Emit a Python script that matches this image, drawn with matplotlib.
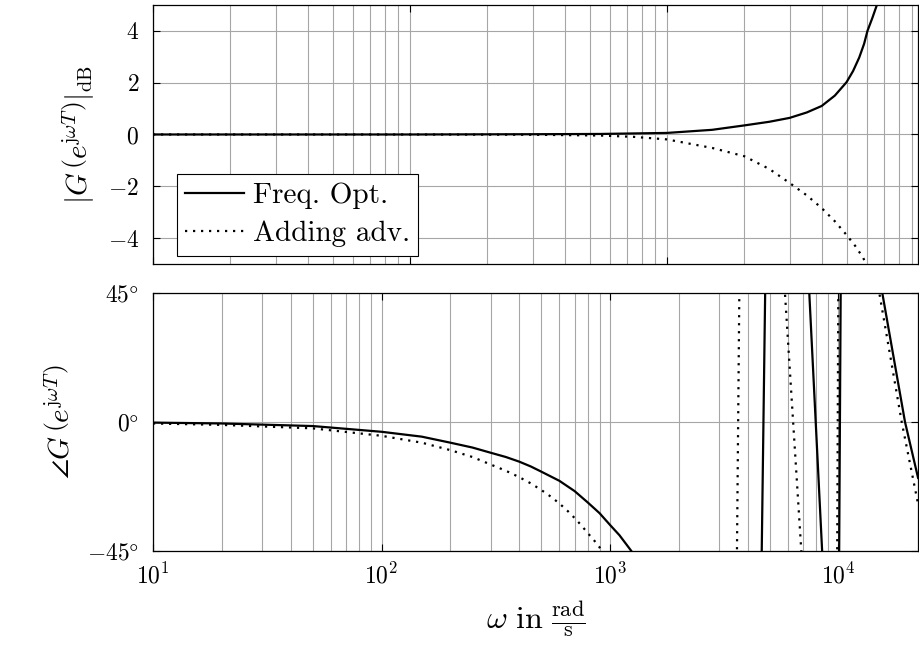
import numpy as np
import matplotlib
matplotlib.use("Agg")
import matplotlib.pyplot as plt
from matplotlib.ticker import FixedLocator, NullFormatter

plt.rcParams.update({
    "font.family": "serif",
    "font.serif": ["cmr10"],
    "mathtext.fontset": "cm",
    "axes.formatter.use_mathtext": True,
    "axes.unicode_minus": False,
    "font.size": 17,
})

nan = np.nan

# magnitude in dB
w_mag_opt = [10, 100, 300, 548, 1000, 1500, 2000, 2500, 3000, 3500, 4000, 4500, 5000,
             5300, 5600, 5850, 6030, 6300, 6560, 6800]
mag_opt = [0.0, 0.0, 0.01, 0.02, 0.06, 0.18, 0.35, 0.49, 0.64, 0.85, 1.1, 1.5, 2.02,
           2.45, 2.97, 3.5, 4.0, 4.5, 5.0, 5.6]

w_mag_adv = [10, 100, 300, 548, 738, 1000, 1500, 2000, 2500, 3000, 3500, 4000, 4500,
             5000, 5400, 5810, 6100]
mag_adv = [0.0, 0.0, -0.01, -0.04, -0.09, -0.19, -0.52, -0.84, -1.33, -1.87, -2.35,
           -2.84, -3.35, -3.88, -4.3, -4.77, -5.3]

# phase in degrees, NaN splits the wrapped branches
w_ph_opt = [10, 20, 50, 100, 150, 200, 250, 300, 350, 400, 450, 500, 600, 700, 800, 900,
            1000, 1100, 1240, 1300, nan,
            4605, 4785, nan,
            7397, 7450, 8480, 8541, nan,
            10060, 10230, nan,
            15200, 15550, 19550, 22300]
ph_opt = [-0.2, -0.5, -1.4, -3.4, -5.1, -7.2, -8.9, -10.7, -12.2, -13.8, -15.5, -17.3,
          -20.5, -24.1, -28.1, -31.8, -35.9, -39.5, -45, -48, nan,
          -50, 50, nan,
          50, 45, -45, -50, nan,
          -50, 50, nan,
          50, 45, 0, -19.5]

w_ph_adv = [10, 20, 50, 100, 150, 200, 250, 300, 350, 400, 450, 500, 550, 600, 650, 700,
            750, 800, 850, 900, 925, 950, nan,
            3590, 3686, nan,
            5777, 5830, 6875, 6940, nan,
            9865, 9985, nan,
            14770, 15090, 18910, 22350]
ph_adv = [-0.5, -1.0, -2.2, -4.8, -7.2, -9.8, -12.2, -14.8, -17.0, -19.2, -21.4, -23.7,
          -26.0, -28.4, -30.9, -33.5, -36.1, -38.8, -41.2, -43.7, -45.5, -47, nan,
          -50, 50, nan,
          50, 45, -45, -50, nan,
          -50, 50, nan,
          50, 45, 0, -29]

grid_kw = dict(color="#a6a6a6", linewidth=0.8)
dotted = (0, (1, 2.6))

fig = plt.figure(figsize=(9.19, 6.47), dpi=100)
ax1 = fig.add_axes([0.1665, 0.592, 0.8325, 0.4003])
ax2 = fig.add_axes([0.1665, 0.1484, 0.8325, 0.3986])

# upper panel: magnitude
ax1.plot(w_mag_opt, mag_opt, color="black", lw=1.6, label="Freq. Opt.")
ax1.plot(w_mag_adv, mag_adv, color="black", lw=1.6, linestyle=dotted, label="Adding adv.")
ax1.set_xscale("log")
ax1.set_xlim(10, 9490)
ax1.set_ylim(-5, 5)
ax1.set_yticks([-4, -2, 0, 2, 4])
ax1.xaxis.set_minor_locator(FixedLocator([m * 10**k for k in range(1, 4) for m in range(2, 10)]))
ax1.xaxis.set_major_formatter(NullFormatter())
ax1.xaxis.set_minor_formatter(NullFormatter())
ax1.set_ylabel(r"$|G\,\left(e^{\mathrm{j}\omega T}\right)|_{\mathrm{dB}}$", fontsize=21, labelpad=8)
leg = ax1.legend(loc="lower left", bbox_to_anchor=(0.031, 0.031), borderaxespad=0,
                 fancybox=False, framealpha=1, edgecolor="black", handlelength=2.0,
                 handletextpad=0.3, labelspacing=0.4, borderpad=0.3, fontsize=21)
leg.get_frame().set_linewidth(0.8)

# lower panel: phase
ax2.plot(w_ph_opt, ph_opt, color="black", lw=1.6)
ax2.plot(w_ph_adv, ph_adv, color="black", lw=1.6, linestyle=dotted)
ax2.set_xscale("log")
ax2.set_xlim(10, 22300)
ax2.set_ylim(-45, 45)
ax2.set_yticks([-45, 0, 45])
ax2.set_yticklabels([r"$-45\degree$", r"$0\degree$", r"$45\degree$"])
ax2.xaxis.set_minor_locator(FixedLocator([m * 10**k for k in range(1, 4) for m in range(2, 10)]))
ax2.xaxis.set_minor_formatter(NullFormatter())
ax2.set_ylabel(r"$\angle G\,\left(e^{\mathrm{j}\omega T}\right)$", fontsize=21, labelpad=8)
ax2.set_xlabel(r"$\omega\ \mathrm{in}\ \frac{\mathrm{rad}}{\mathrm{s}}$", fontsize=23, labelpad=8)

for ax in (ax1, ax2):
    ax.grid(True, which="major", **grid_kw)
    ax.grid(True, which="minor", axis="x", **grid_kw)
    ax.tick_params(which="both", direction="in", top=True, right=True, labelsize=17)
    ax.tick_params(which="major", length=5, width=0.8)
    ax.tick_params(axis="y", which="major", pad=10)
    ax.tick_params(axis="x", which="major", pad=9)
    ax.tick_params(which="minor", length=0)
    for s in ax.spines.values():
        s.set_linewidth(0.9)
    ax.set_axisbelow(True)

fig.savefig("out.png", dpi=100)
